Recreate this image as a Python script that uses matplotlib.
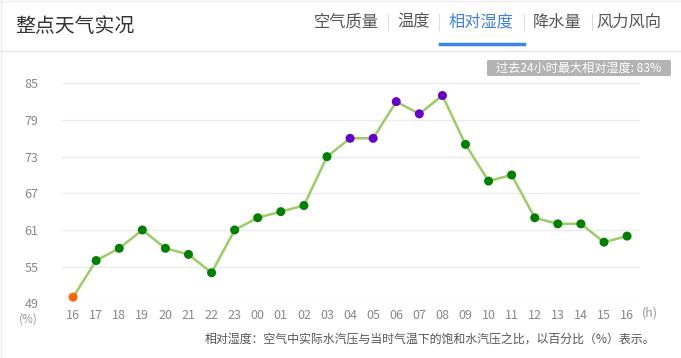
import matplotlib
matplotlib.use("Agg")
import matplotlib.pyplot as plt
from matplotlib.patches import FancyBboxPatch
from matplotlib.lines import Line2D

plt.rcParams['font.family'] = ['Noto Sans CJK SC', 'DejaVu Sans']

hours = ["16", "17", "18", "19", "20", "21", "22", "23", "00", "01", "02", "03",
         "04", "05", "06", "07", "08", "09", "10", "11", "12", "13", "14", "15", "16"]
humidity = [50, 56, 58, 61, 58, 57, 54, 61, 63, 64, 65, 73,
            76, 76, 82, 80, 83, 75, 69, 70, 63, 62, 62, 59, 60]
yticks = [49, 55, 61, 67, 73, 79, 85]
tabs = ["空气质量", "温度", "相对湿度", "降水量", "风力风向"]
tab_x = [314, 397, 449, 533, 596]
active_tab = "相对湿度"


def point_color(v):
    if v <= 50:
        return "#ff6600"
    if v <= 75:
        return "#008000"
    return "#6600cc"


W, H = 681, 358
fig = plt.figure(figsize=(W / 100, H / 100), dpi=100)
fig.patch.set_facecolor("white")


def fx(px):
    return px / W


def fy(py):
    return 1 - py / H


# plot area
ax = fig.add_axes([fx(62), fy(303.3), fx(640) - fx(62), fy(83.3) - fy(303.3)])
xs = list(range(len(hours)))
ax.set_xlim(-0.48, len(hours) - 1 + 0.56)
ax.set_ylim(49, 85)
for t in yticks:
    ax.axhline(t, color="#ebebeb", lw=1, zorder=0)
ax.plot(xs, humidity, color="#9ccc65", lw=1.8, zorder=2)
ax.scatter(xs, humidity, c=[point_color(v) for v in humidity], s=42, zorder=3,
           edgecolors="none")
for s in ax.spines.values():
    s.set_visible(False)
ax.set_xticks(xs)
ax.set_xticklabels(hours, fontsize=9, color="#888888")
ax.set_yticks(yticks)
ax.set_yticklabels([str(t) for t in yticks], fontsize=9, color="#888888")
ax.tick_params(axis='x', length=0, pad=4)
ax.tick_params(axis='y', length=0, pad=17)

# units
fig.text(fx(28), fy(319), "(%)", fontsize=8.5, color="#999999", ha="center", va="center")
fig.text(fx(650), fy(313), "(h)", fontsize=9, color="#999999", ha="center", va="center")

# header
fig.text(fx(15), fy(27), "整点天气实况", fontsize=14.3, color="#333333", ha="left", va="center")
for name, x in zip(tabs, tab_x):
    c = "#3d82e6" if name == active_tab else "#555555"
    fig.text(fx(x), fy(22), name, fontsize=11.7, color=c, ha="left", va="center")
for sx in [388, 439, 524, 592]:
    fig.add_artist(Line2D([fx(sx), fx(sx)], [fy(14), fy(30)], color="#dddddd", lw=0.8))
fig.add_artist(Line2D([fx(440), fx(524)], [fy(43.5), fy(43.5)], color="#3d82e6", lw=2.5))
fig.add_artist(Line2D([0, 1], [fy(51), fy(51)], color="#e5e5e5", lw=1))
fig.add_artist(Line2D([0, 1], [fy(0.5), fy(0.5)], color="#eeeeee", lw=1))
fig.add_artist(Line2D([fx(0.5), fx(0.5)], [0, 1], color="#eeeeee", lw=1))

# badge
badge = FancyBboxPatch((fx(487), fy(76)), fx(671) - fx(487), fy(60) - fy(76),
                       boxstyle="round,pad=0,rounding_size=0.004",
                       transform=fig.transFigure, facecolor="#b3b3b3",
                       edgecolor="none")
fig.add_artist(badge)
fig.text(fx(579), fy(68), "过去24小时最大相对湿度: 83%", fontsize=8.7, color="white",
         ha="center", va="center")

# footer
fig.text(fx(655), fy(339), "相对湿度：空气中实际水汽压与当时气温下的饱和水汽压之比，以百分比（%）表示。",
         fontsize=8.6, color="#555555", ha="right", va="center")

fig.savefig("out.png", dpi=100, facecolor="white")
